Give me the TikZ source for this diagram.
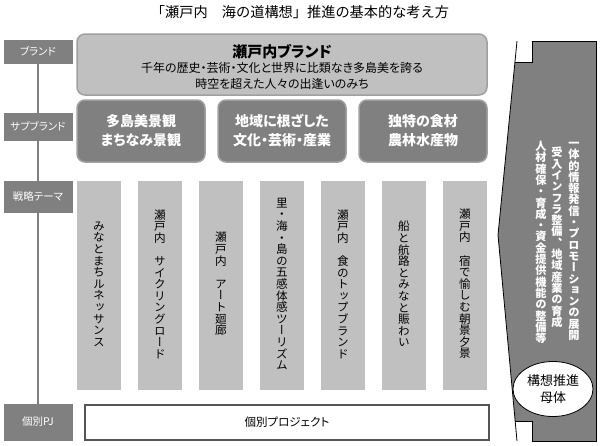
\documentclass[tikz,border=0pt]{standalone}
\usepackage{fontspec}
\setmainfont{Noto Sans CJK JP}
\newfontfamily\jp{Noto Sans CJK JP}
\newfontfamily\jpp{Noto Sans CJK JP}[RawFeature=+palt]
\newfontfamily\jpv{Noto Sans CJK JP}[RawFeature=+vert]
\usetikzlibrary{shapes.geometric}
\definecolor{dg}{HTML}{808080}
\definecolor{lg}{HTML}{C0C0C0}
\definecolor{bd}{HTML}{A0A0A0}
\definecolor{pjb}{HTML}{555555}
\tikzset{
  lab/.style={fill=dg, draw=dg, text=white, minimum width=68, inner sep=0,
    font=\fontsize{10.5}{12}\jpp},
  brandbox/.style={fill=lg, draw=bd, line width=1.5, rounded corners=8,
    minimum width=410, minimum height=61, inner sep=0},
  subbox/.style={fill=dg, draw=bd, line width=1.5, rounded corners=8,
    minimum width=128, minimum height=62, inner sep=0, text=white, align=center,
    font=\fontsize{14}{19}\jpp\bfseries},
  themecol/.style={fill=lg, minimum width=44, minimum height=209, inner sep=0},
  vtxt/.style={align=center, inner sep=0, font=\fontsize{11.6}{11.6}\jpv},
  rtxt/.style={align=center, inner sep=0, text=white, anchor=north,
    font=\fontsize{11.2}{11.3}\jpv\bfseries},
  link/.style={dg, line width=2},
}
\begin{document}
\begin{tikzpicture}[x=1pt, y=-1pt]
\useasboundingbox (0,0) rectangle (600,445);

% title
\node[font=\fontsize{14.2}{16}\jp] (title) at (300,12) {「瀬戸内　海の道構想」推進の基本的な考え方};

% left labels
\node[lab, minimum height=23] (lb1) at (38,51.5) {ブランド};
\node[lab, minimum height=27] (lb2) at (38,126.5) {サブブランド};
\node[lab, minimum height=31] (lb3) at (38,196.5) {戦略テーマ};
\node[lab, minimum height=36] (lb4) at (38,422) {個別PJ};
\draw[link] (lb1.south) -- (lb2.north);
\draw[link] (lb2.south) -- (lb3.north);
\draw[link] (lb3.south) -- (lb4.north);

% brand
\node[brandbox] (brand) at (282,64.5) {};
\node[font=\fontsize{15}{18}\jpp\bfseries] (bt1) at (282,52) {瀬戸内ブランド};
\node[font=\fontsize{12}{14}\jpp] (bt2) at (282,68) {千年の歴史・芸術・文化と世界に比類なき多島美を誇る};
\node[font=\fontsize{12}{14}\jpp] (bt3) at (282,84) {時空を超えた人々の出逢いのみち};

% sub brands
\node[subbox] (sb1) at (141,131) {多島美景観\\まちなみ景観};
\node[subbox] (sb2) at (282,131) {地域に根ざした\\文化・芸術・産業};
\node[subbox] (sb3) at (423,131) {独特の食材\\農林水産物};

% theme columns
\node[themecol] (c1) at (99,285.5) {};
\node[themecol] (c2) at (160,285.5) {};
\node[themecol] (c3) at (221,285.5) {};
\node[themecol] (c4) at (282,285.5) {};
\node[themecol] (c5) at (343,285.5) {};
\node[themecol] (c6) at (404,285.5) {};
\node[themecol] (c7) at (465,285.5) {};
\node[vtxt] (t1) at (99,284) {み\\な\\と\\ま\\ち\\ル\\ネ\\ッ\\サ\\ン\\ス};
\node[vtxt] (t2) at (160,284) {瀬\\戸\\内\\　\\サ\\イ\\ク\\リ\\ン\\グ\\ロ\\ー\\ド};
\node[vtxt] (t3) at (221,284) {瀬\\戸\\内\\　\\ア\\ー\\ト\\廻\\廊};
\node[vtxt] (t4) at (282,284) {里\\・\\海\\・\\島\\の\\五\\感\\体\\感\\ツ\\ー\\リ\\ズ\\ム};
\node[vtxt] (t5) at (343,284) {瀬\\戸\\内\\　\\食\\の\\ト\\ッ\\プ\\ブ\\ラ\\ン\\ド};
\node[vtxt] (t6) at (404,284) {船\\と\\航\\路\\と\\み\\な\\と\\賑\\わ\\い};
\node[vtxt] (t7) at (465,284) {瀬\\戸\\内\\　\\宿\\で\\愉\\し\\む\\朝\\景\\夕\\景};

% individual projects
\node[draw=pjb, line width=1.2, fill=white, minimum width=404, minimum height=35,
  inner sep=0, font=\fontsize{11.5}{14}\jpp] (pj) at (287,422.5) {個別プロジェクト};

% right body
\fill[dg] (532,41) -- (596,41) -- (596,441) -- (532,441) -- (532,421) -- (515.2,421)
  -- (498,235) -- (515,62) -- (532,62) -- cycle;
\draw[line width=0.8] (515,62) -- (532,62) -- (532,41) -- (596,41) -- (596,441)
  -- (532,441) -- (532,421) -- (515.2,421);
\draw[line width=0.8] (517,41) -- (498,235) -- (517,441);
\node[rtxt] (r1) at (574,142) {一\\体\\的\\情\\報\\発\\信\\・\\プ\\ロ\\モ\\ー\\シ\\ョ\\ン\\の\\展\\開};
\node[rtxt] (r2) at (557,147) {受\\入\\イ\\ン\\フ\\ラ\\整\\備\\、\\地\\域\\産\\業\\の\\育\\成};
\node[rtxt] (r3) at (541,141) {人\\材\\確\\保\\・\\育\\成\\・\\資\\金\\提\\供\\機\\能\\の\\整\\備\\等};
\node[ellipse, draw, line width=0.8, fill=white, minimum width=80, minimum height=55,
  inner sep=0, align=center, font=\fontsize{13}{17}\jp] (ell) at (553,389) {構想推進\\母体};
\end{tikzpicture}
\end{document}
